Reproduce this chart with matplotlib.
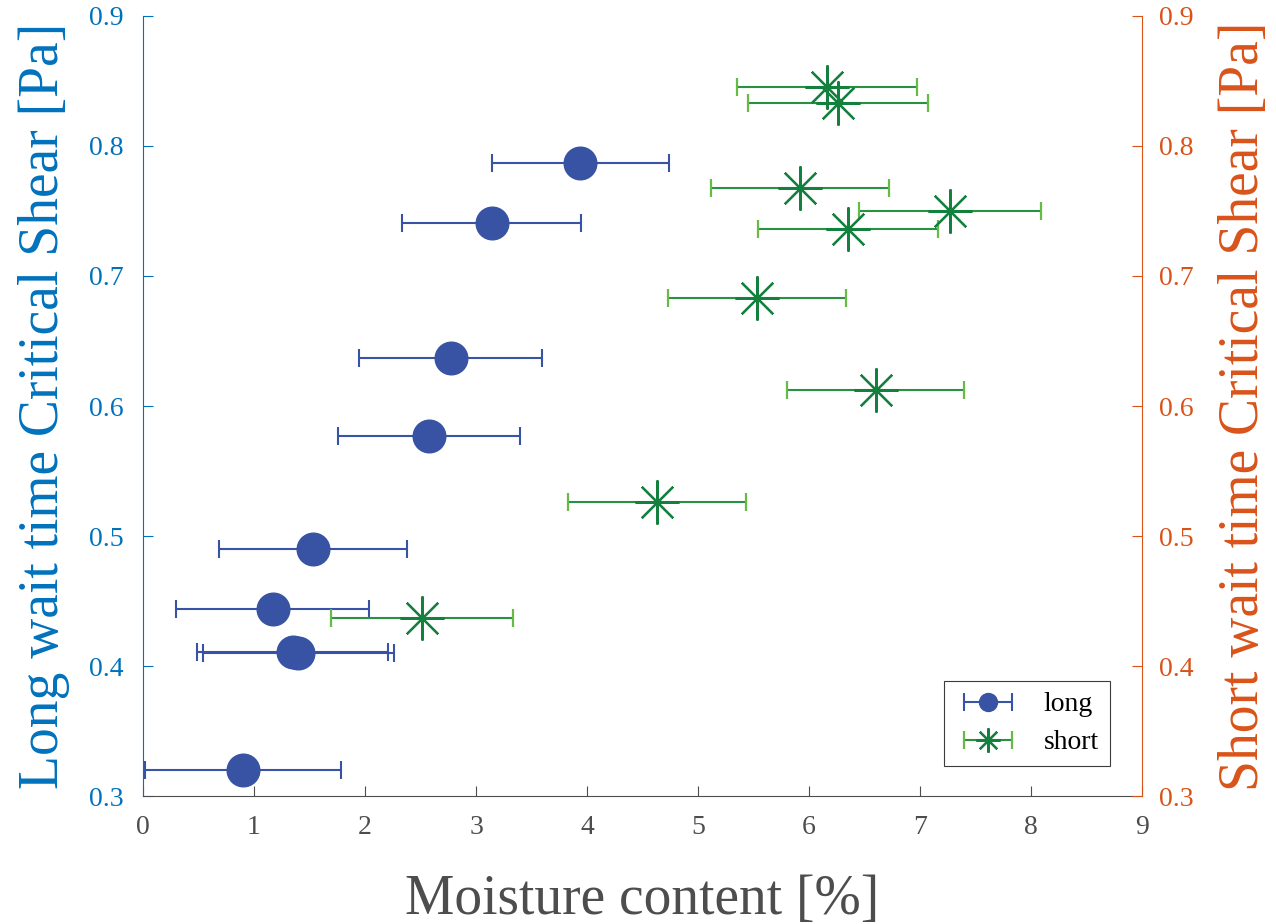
import matplotlib.pyplot as plt
from matplotlib.container import ErrorbarContainer
from matplotlib.legend_handler import HandlerErrorbar

# long wait time (left axis)
long_x = [3.94, 3.14, 2.77, 2.58, 1.53, 1.17, 1.35, 1.40, 0.90]
long_y = [0.787, 0.741, 0.637, 0.577, 0.490, 0.444, 0.411, 0.410, 0.320]
long_err = [0.80, 0.81, 0.82, 0.82, 0.85, 0.87, 0.86, 0.86, 0.88]

# short wait time (right axis)
short_x = [6.16, 6.26, 5.92, 7.27, 6.35, 5.53, 6.60, 4.63, 2.51]
short_y = [0.845, 0.833, 0.768, 0.750, 0.736, 0.683, 0.612, 0.526, 0.437]
short_err = [0.81, 0.81, 0.80, 0.82, 0.81, 0.80, 0.80, 0.80, 0.82]

x_ticks = [0, 1, 2, 3, 4, 5, 6, 7, 8, 9]
y_ticks = [0.3, 0.4, 0.5, 0.6, 0.7, 0.8, 0.9]

blue_axis = '#0072BD'
orange_axis = '#D95319'
gray = '#4D4D4D'
blue = '#3953A4'
green = '#13813D'
green_bar = '#2A9142'
green_cap = '#66BB44'

plt.rcParams['font.family'] = ['Liberation Serif', 'DejaVu Serif']

fig = plt.figure(figsize=(12.76, 9.24), dpi=100)
ax = fig.add_axes([0.1121, 0.1385, 0.7829, 0.8442])
ax2 = ax.twinx()

h1 = ax.errorbar(long_x, long_y, xerr=long_err, fmt='o', color=blue, ms=23.5,
                 elinewidth=1.5, capsize=6.7, capthick=1.5, label='long')
h2 = ax2.errorbar(short_x, short_y, xerr=short_err, marker=(8, 2, 0), ls='none',
                  color=green, ms=31.7, mew=1.6, ecolor=green_bar,
                  elinewidth=1.5, capsize=6.7, capthick=1.5, label='short')
for cap in h2[1]:
    cap.set_markeredgecolor(green_cap)

for a in (ax, ax2):
    a.set_xlim(0, 9)
    a.set_ylim(0.3, 0.9)
    a.set_yticks(y_ticks)
    a.set_yticklabels(['%.1f' % v for v in y_ticks])
    a.spines['top'].set_visible(False)

ax.set_xticks(x_ticks)
ax.spines['right'].set_visible(False)
ax2.spines['left'].set_visible(False)
ax2.spines['bottom'].set_visible(False)
ax.spines['left'].set_color(blue_axis)
ax.spines['bottom'].set_color(gray)
ax2.spines['right'].set_color(orange_axis)

ax.tick_params(axis='y', direction='in', length=7.2, colors=blue_axis, labelsize=20, pad=14)
ax.tick_params(axis='x', direction='in', length=7.2, color=gray, labelcolor=gray, labelsize=20, pad=14)
ax2.tick_params(axis='y', direction='in', length=7.2, colors=orange_axis, labelsize=20, pad=12)

ax.set_xlabel('Moisture content [%]', fontsize=40, color=gray, labelpad=24)
ax.set_ylabel('Long wait time Critical Shear [Pa]', fontsize=40, color=blue_axis, labelpad=14)
ax2.set_ylabel('Short wait time Critical Shear [Pa]', fontsize=40, color=orange_axis, labelpad=18)

leg = ax2.legend(handles=[h1, h2], labels=['long', 'short'], loc='lower right',
                 bbox_to_anchor=(0.968, 0.038), borderaxespad=0, fancybox=False,
                 edgecolor='#3C3C3C', framealpha=1, fontsize=20, markerscale=0.55,
                 handlelength=2.4, handletextpad=0.8, labelspacing=0.45, borderpad=0.4,
                 handler_map={ErrorbarContainer: HandlerErrorbar(xerr_size=0.86)})
leg.get_frame().set_linewidth(0.8)

fig.savefig('out.png', dpi=100)
